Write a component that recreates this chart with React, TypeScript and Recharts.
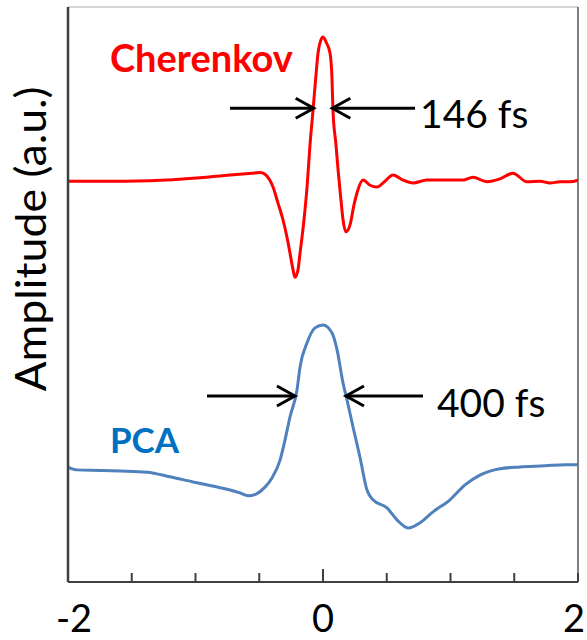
import { LineChart, Line, XAxis, YAxis, ReferenceLine, ReferenceDot } from 'recharts';

// time axis in ps, amplitude in a.u. (traces offset vertically)
const cherenkovTime = [
  -2.0, -1.75, -1.357, -0.965, -0.729, -0.557, -0.494, -0.455, -0.42, -0.392, -0.353, -0.314,
  -0.282, -0.259, -0.235, -0.22, -0.196, -0.18, -0.149, -0.125, -0.102, -0.078, -0.055, -0.039,
  -0.016, 0.0, 0.024, 0.055, 0.071, 0.078, 0.102, 0.118, 0.141, 0.157, 0.18, 0.212, 0.243,
  0.267, 0.314, 0.369, 0.424, 0.486, 0.549, 0.627, 0.706, 0.816, 0.957, 1.098, 1.176, 1.286,
  1.388, 1.49, 1.6, 1.702, 1.78, 1.859, 1.937, 2.0,
];
const cherenkovAmp = [
  6.97, 6.97, 6.98, 7.03, 7.08, 7.11, 7.12, 7.09, 7.0, 6.87, 6.59, 6.3,
  5.99, 5.72, 5.43, 5.3, 5.43, 5.72, 6.3, 6.87, 7.6, 8.21, 8.82, 9.2,
  9.43, 9.48, 9.39, 9.2, 8.73, 8.21, 7.6, 7.17, 6.64, 6.3, 6.09, 6.21, 6.56,
  6.77, 6.99, 6.9, 6.87, 6.97, 7.08, 6.99, 6.94, 6.99, 6.99, 6.99, 7.04, 6.96,
  7.01, 7.11, 6.96, 6.97, 6.94, 6.96, 6.96, 6.99,
];

const pcaTime = [
  -2.0, -1.929, -1.749, -1.592, -1.38, -1.2, -1.02, -0.808, -0.729, -0.651, -0.588, -0.525,
  -0.455, -0.4, -0.337, -0.298, -0.259, -0.204, -0.18, -0.125, -0.063, 0.0, 0.071, 0.11,
  0.157, 0.188, 0.235, 0.29, 0.345, 0.392, 0.502, 0.58, 0.667, 0.761, 0.863, 0.996, 1.114,
  1.231, 1.388, 1.545, 1.741, 1.898, 2.0,
];
const pcaAmp = [
  2.0, 1.95, 1.94, 1.93, 1.91, 1.83, 1.74, 1.64, 1.6, 1.55, 1.5, 1.53,
  1.65, 1.81, 2.12, 2.47, 2.87, 3.34, 3.74, 4.16, 4.42, 4.47, 4.33, 4.04,
  3.46, 3.17, 2.7, 2.17, 1.6, 1.43, 1.29, 1.08, 0.94, 1.03, 1.22, 1.43, 1.69,
  1.86, 1.97, 2.0, 2.02, 2.04, 2.04,
];

const xTicks = [-2, -1.5, -1, -0.5, 0, 0.5, 1, 1.5, 2];
const xTickLabels = ['-2', '0', '2'];

// pulse widths (ps) and baselines used for the FWHM markers
const cherenkovFwhm = 0.146;
const pcaFwhm = 0.4;
const cherenkovBase = 7.0;
const pcaBase = 2.0;

const cherenkovData = cherenkovTime.map((t, i) => ({ t, v: cherenkovAmp[i] }));
const pcaData = pcaTime.map((t, i) => ({ t, v: pcaAmp[i] }));

const cherenkovHalf = cherenkovBase + (Math.max(...cherenkovAmp) - cherenkovBase) / 2;
const pcaHalf = pcaBase + (Math.max(...pcaAmp) - pcaBase) / 2;
const pcaCenter = -0.02;

const FONT = 'Lato, "Open Sans", sans-serif';

function Arrow(props: any) {
  const { x1, y1, x2, y2 } = props;
  const dir = x2 > x1 ? 1 : -1;
  return (
    <g>
      <line x1={x1} y1={y1} x2={x2} y2={y2} stroke="#000" strokeWidth={3} />
      <polyline
        points={`${x2 - dir * 18},${y2 - 10} ${x2},${y2} ${x2 - dir * 18},${y2 + 10}`}
        fill="none"
        stroke="#000"
        strokeWidth={3}
      />
    </g>
  );
}

function textAt(text: string, color: string, bold: boolean, size: number) {
  return (props: any) => (
    <text
      x={props.cx}
      y={props.cy}
      fill={color}
      fontFamily={FONT}
      fontSize={size}
      fontWeight={bold ? 700 : 400}
    >
      {text}
    </text>
  );
}

function TimeTick(props: any) {
  const { x, y, payload } = props;
  const v = payload.value;
  const label = xTickLabels.find((l) => Number(l) === v);
  const len = v === 0 ? 13 : 9;
  const dx = v === -2 ? 6 : v === 2 ? -4 : 0;
  return (
    <g>
      <line x1={x} y1={y} x2={x} y2={y - len} stroke="#404040" strokeWidth={2} />
      {label !== undefined && (
        <text x={x + dx} y={y + 50} textAnchor="middle" fontFamily={FONT} fontSize={38} fill="#000">
          {label}
        </text>
      )}
    </g>
  );
}

export default function App() {
  return (
    <div style={{ position: 'absolute', left: 0, top: 0, background: '#fff' }}>
      <LineChart width={587} height={640} margin={{ top: 7, right: 9, left: 0, bottom: 0 }}>
        <XAxis
          dataKey="t"
          type="number"
          domain={[-2, 2]}
          ticks={xTicks}
          interval={0}
          height={58}
          tickSize={0}
          tickMargin={0}
          tick={<TimeTick />}
          axisLine={{ stroke: '#404040', strokeWidth: 2 }}
          allowDataOverflow
        />
        <YAxis
          type="number"
          domain={[0, 10]}
          width={68}
          tick={false}
          tickLine={false}
          axisLine={{ stroke: '#404040', strokeWidth: 2.5 }}
          allowDataOverflow
          label={{
            content: () => (
              <text
                x={30}
                y={239}
                transform="rotate(-90 30 239)"
                textAnchor="middle"
                dominantBaseline="central"
                fontFamily={FONT}
                fontSize={42}
                textLength={305}
                lengthAdjust="spacingAndGlyphs"
                fill="#000"
              >
                Amplitude (a.u.)
              </text>
            ),
          }}
        />
        <ReferenceLine y={10} stroke="#c8c8c8" strokeWidth={1.5} />
        <ReferenceLine x={2} stroke="#555" strokeWidth={1.5} />

        <Line
          data={cherenkovData}
          dataKey="v"
          type="monotone"
          stroke="#ff0000"
          strokeWidth={3}
          dot={false}
          isAnimationActive={false}
        />
        <Line
          data={pcaData}
          dataKey="v"
          type="monotone"
          stroke="#4f81bd"
          strokeWidth={3}
          dot={false}
          isAnimationActive={false}
        />

        <ReferenceLine
          segment={[{ x: -0.729, y: cherenkovHalf }, { x: -cherenkovFwhm / 2, y: cherenkovHalf }]}
          shape={Arrow}
        />
        <ReferenceLine
          segment={[{ x: 0.722, y: cherenkovHalf }, { x: cherenkovFwhm / 2, y: cherenkovHalf }]}
          shape={Arrow}
        />
        <ReferenceLine
          segment={[{ x: -0.91, y: pcaHalf }, { x: pcaCenter - pcaFwhm / 2, y: pcaHalf }]}
          shape={Arrow}
        />
        <ReferenceLine
          segment={[{ x: 0.784, y: pcaHalf }, { x: pcaCenter + pcaFwhm / 2, y: pcaHalf }]}
          shape={Arrow}
        />

        <ReferenceDot x={-1.671} y={8.87} r={0} shape={textAt('Cherenkov', '#ff0000', true, 38)} />
        <ReferenceDot x={-1.671} y={2.243} r={0} shape={textAt('PCA', '#0070c0', true, 35)} />
        <ReferenceDot x={0.761} y={7.9} r={0} shape={textAt(`${cherenkovFwhm * 1000} fs`, '#000', false, 39)} />
        <ReferenceDot x={0.894} y={2.87} r={0} shape={textAt(`${pcaFwhm * 1000} fs`, '#000', false, 39)} />
      </LineChart>
    </div>
  );
}
